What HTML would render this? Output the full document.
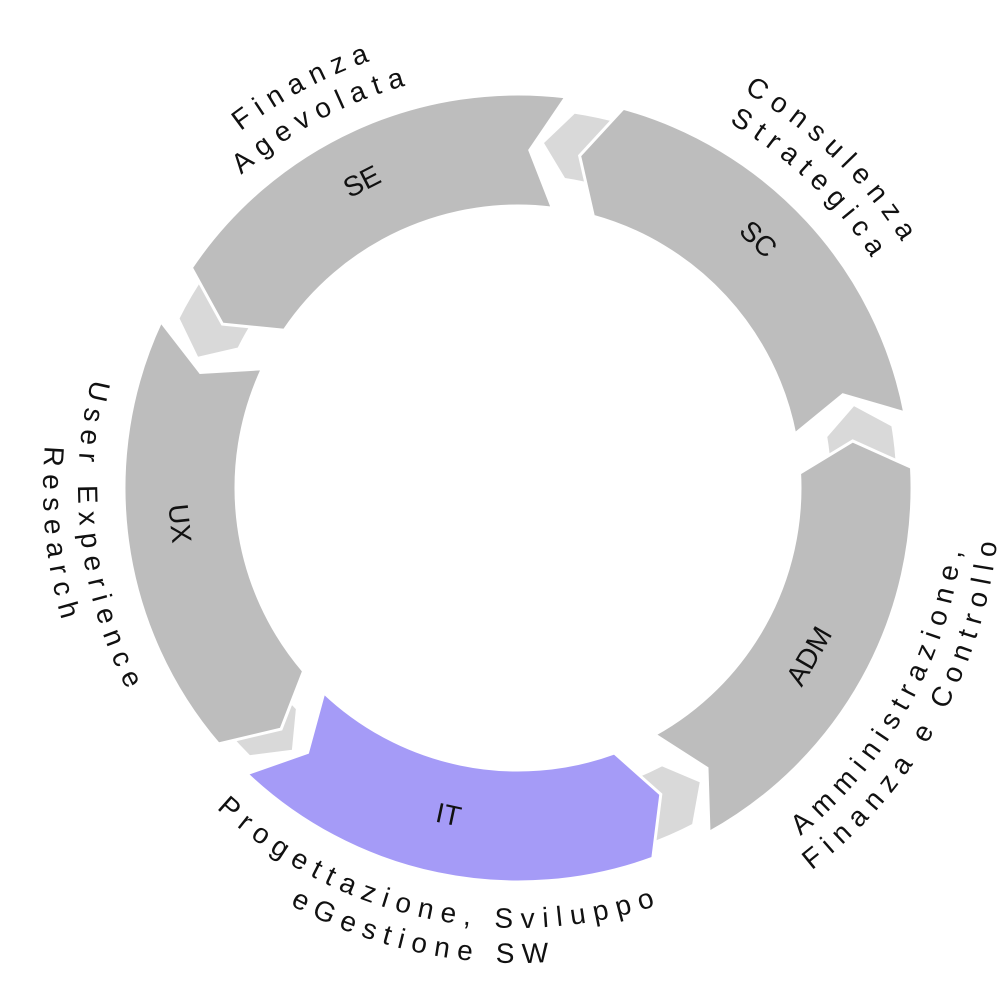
<!DOCTYPE html>
<html><head><meta charset="utf-8"><style>
html,body{margin:0;padding:0;background:#fff;}
svg{display:block;}
.lab{font-family:"Liberation Sans",sans-serif;font-size:28px;letter-spacing:8px;fill:#111;}
.in{font-family:"Liberation Sans",sans-serif;font-size:28px;fill:#111;}
</style></head><body>
<svg id="s" width="1000" height="985" viewBox="0 0 1000 985" xmlns="http://www.w3.org/2000/svg"></svg>
<script>
var cx=518,cy=488,R=394,r=282;
function P(t,rad){var a=t*Math.PI/180;return [cx+rad*Math.sin(a),cy-rad*Math.cos(a)];}
function f(p){return p[0].toFixed(1)+","+p[1].toFixed(1);}
function seg(a,b,ro,ri,d,fill){
 var m=(ro+ri)/2;
 var s="M"+f(P(a,ro))+" A"+ro+","+ro+" 0 0 1 "+f(P(b,ro))+" L"+f(P(b-d,m))+" L"+f(P(b,ri))+
 " A"+ri+","+ri+" 0 0 0 "+f(P(a,ri))+" L"+f(P(a-d,m))+" Z";
 return '<path d="'+s+'" fill="'+fill+'" stroke="#fff" stroke-width="3" stroke-linejoin="miter"/>';
}
var h='';
var segs=[[-56,7,"#bdbdbd"],[15.5,79,"#bdbdbd"],[87,151,"#bdbdbd"],[160,223.5,"#a59bf7"],[229.5,295,"#bdbdbd"]];
for(var i=0;i<5;i++){var e=segs[i][1],nx=segs[(i+1)%5][0];if(nx<e)nx+=360;
 h+=seg(e+1.5,nx+0.5,380,312,4.5,"#d9d9d9");}
segs.forEach(function(s){h+=seg(s[0],s[1],R,r,5,s[2]);});
var il=[["SE",-27,344],["SC",44,346],["ADM",120,336],["IT",192,334],["UX",264,340]];
il.forEach(function(l){var p=P(l[1],l[2]);var rot=(l[1]>90&&l[1]<270)?l[1]-180:l[1];
 h+='<text class="in" x="'+p[0]+'" y="'+p[1]+'" text-anchor="middle" dominant-baseline="central" transform="rotate('+rot+' '+p[0]+' '+p[1]+')">'+l[0]+'</text>';});
var n=0;
function cw(txt,c,rad){var id="p"+(n++);var a=c-70,b=c+70;
 h+='<path id="'+id+'" d="M'+f(P(a,rad))+' A'+rad+','+rad+' 0 0 1 '+f(P(b,rad))+'" fill="none"/>';
 h+='<text class="lab"><textPath href="#'+id+'" startOffset="50%" text-anchor="middle">'+txt+'</textPath></text>';}
function ccw(txt,c,rad){var id="p"+(n++);var a=c+70,b=c-70;
 h+='<path id="'+id+'" d="M'+f(P(a,rad))+' A'+rad+','+rad+' 0 0 0 '+f(P(b,rad))+'" fill="none"/>';
 h+='<text class="lab"><textPath href="#'+id+'" startOffset="50%" text-anchor="middle">'+txt+'</textPath></text>';}
cw("Finanza",-28,452);cw("Agevolata",-28,418);
cw("Consulenza",44,456);cw("Strategica",44,422);
ccw("Amministrazione,",119,448);ccw("Finanza e Controllo",119,482);
ccw("Progettazione, Sviluppo",192,440);ccw("eGestione SW",192,475);
ccw("User Experience",263,440);ccw("Research",264,475);
document.getElementById("s").innerHTML=h;
</script>
</body></html>
